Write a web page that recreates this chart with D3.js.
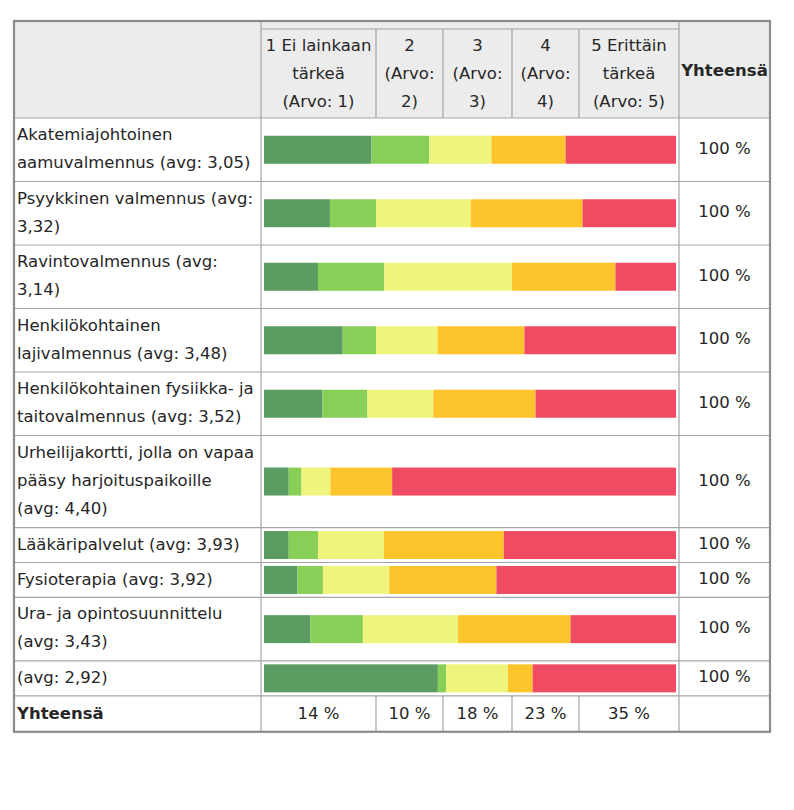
<!DOCTYPE html>
<html><head><meta charset="utf-8">
<script src="https://cdn.jsdelivr.net/npm/d3@7"></script>
<style>
body{margin:0;background:#fff}
text{font-family:"DejaVu Sans",Verdana,sans-serif;font-size:16.5px;fill:#262626}
</style>
</head><body><svg id="chart" width="794" height="810"></svg>
<script>
// ---- data ----
const categories = [
  "Akatemiajohtoinen\naamuvalmennus (avg: 3,05)",
  "Psyykkinen valmennus (avg:\n3,32)",
  "Ravintovalmennus (avg:\n3,14)",
  "Henkilökohtainen\nlajivalmennus (avg: 3,48)",
  "Henkilökohtainen fysiikka- ja\ntaitovalmennus (avg: 3,52)",
  "Urheilijakortti, jolla on vapaa\npääsy harjoituspaikoille\n(avg: 4,40)",
  "Lääkäripalvelut (avg: 3,93)",
  "Fysioterapia (avg: 3,92)",
  "Ura- ja opintosuunnittelu\n(avg: 3,43)",
  "(avg: 2,92)"
];
const level1 = [26.1, 16.0, 13.1, 19.1, 14.2, 6.0, 6.0, 8.1, 11.2, 42.2];
const level2 = [14.0, 11.2, 16.1, 8.1, 10.9, 3.1, 7.1, 6.2, 12.8, 2.0];
const level3 = [15.1, 23.0, 31.0, 14.9, 16.0, 7.0, 16.0, 16.1, 23.1, 15.0];
const level4 = [18.0, 27.1, 25.1, 21.1, 24.8, 15.0, 29.1, 26.0, 27.3, 6.0];
const level5 = [26.8, 22.7, 14.7, 36.8, 34.1, 68.9, 41.8, 43.6, 25.6, 34.8];
const rowTotals = ["100 %","100 %","100 %","100 %","100 %","100 %","100 %","100 %","100 %","100 %"];
const columnHeaders = [
  ["1 Ei lainkaan","tärkeä","(Arvo: 1)"],
  ["2","(Arvo:","2)"],
  ["3","(Arvo:","3)"],
  ["4","(Arvo:","4)"],
  ["5 Erittäin","tärkeä","(Arvo: 5)"]
];
const totalHeader = "Yhteensä";
const footerLabel = "Yhteensä";
const footerTotals = ["14 %","10 %","18 %","23 %","35 %"];
const levelKeys = ["l1","l2","l3","l4","l5"];
const levelColors = ["#5b9c62","#88cf58","#eff47d","#fcc52b","#ef4c63"];

// ---- layout ----
const svg = d3.select("#chart");
const L = 14, R = 770, TOP = 21, HEAD_SUB = 29, HEAD_BOT = 118;
const colEdges = [261, 376, 443, 512, 579, 679];
const BAR_X0 = 264, BAR_X1 = 676, BAR_H = 28, LINE_H = 28;
const border = "#8c8c8c", inner = "#a6a6a6";

const x = d3.scaleLinear().domain([0, 100]).range([BAR_X0, BAR_X1]);
const color = d3.scaleOrdinal().domain(levelKeys).range(levelColors);

const rows = categories.map((c, i) => ({
  label: c, lines: c.split("\n"),
  l1: level1[i], l2: level2[i], l3: level3[i], l4: level4[i], l5: level5[i],
  total: rowTotals[i]
}));
let yc = HEAD_BOT;
rows.forEach(r => { r.y0 = yc; r.h = 28.6 * r.lines.length + 6.3; yc += r.h; });
const FOOT_TOP = yc, FOOT_BOT = yc + 36;

svg.append("rect").attr("width", 794).attr("height", 810).attr("fill", "#fff");

// header background
svg.append("rect").attr("x", L).attr("y", TOP).attr("width", R - L).attr("height", HEAD_BOT - TOP)
  .attr("fill", "#ececec");

// header texts
const hdr = svg.append("g");
columnHeaders.forEach((lines, j) => {
  const cx = (colEdges[j] + colEdges[j + 1]) / 2;
  lines.forEach((t, k) => {
    hdr.append("text").attr("x", cx).attr("y", HEAD_SUB + 22 + k * LINE_H)
      .attr("text-anchor", "middle").text(t);
  });
});
hdr.append("text").attr("x", (colEdges[5] + R) / 2).attr("y", (TOP + HEAD_BOT) / 2 + 6)
  .attr("text-anchor", "middle").attr("font-weight", "bold").text(totalHeader);

// body rows
const body = svg.append("g");
rows.forEach(r => {
  r.lines.forEach((t, k) => {
    body.append("text").attr("x", 17).attr("y", r.y0 + 22 + k * LINE_H).text(t);
  });
  body.append("text").attr("x", (colEdges[5] + R) / 2).attr("y", r.y0 + r.h / 2 + 4)
    .attr("text-anchor", "middle").text(r.total);
});

// stacked bars
const stack = d3.stack().keys(levelKeys)(rows);
svg.append("g").selectAll("g").data(stack).join("g")
  .attr("fill", d => color(d.key))
  .selectAll("rect").data(d => d).join("rect")
  .attr("x", d => x(d[0]))
  .attr("width", d => x(d[1]) - x(d[0]))
  .attr("y", d => d.data.y0 + d.data.h / 2 - BAR_H / 2)
  .attr("height", BAR_H);

// footer
svg.append("text").attr("x", 17).attr("y", (FOOT_TOP + FOOT_BOT) / 2 + 5)
  .attr("font-weight", "bold").text(footerLabel);
footerTotals.forEach((t, j) => {
  svg.append("text").attr("x", (colEdges[j] + colEdges[j + 1]) / 2).attr("y", (FOOT_TOP + FOOT_BOT) / 2 + 5)
    .attr("text-anchor", "middle").text(t);
});

// grid lines
const g = svg.append("g").attr("stroke", inner).attr("stroke-width", 1.2).attr("fill", "none");
const hl = (y, x1, x2) => g.append("line").attr("x1", x1).attr("x2", x2).attr("y1", y).attr("y2", y);
const vl = (xx, y1, y2) => g.append("line").attr("x1", xx).attr("x2", xx).attr("y1", y1).attr("y2", y2);
hl(HEAD_SUB, colEdges[0], colEdges[5]);
hl(HEAD_BOT, L, R);
rows.forEach(r => hl(r.y0 + r.h, L, R));
vl(colEdges[0], TOP, FOOT_BOT);
vl(colEdges[5], TOP, FOOT_BOT);
colEdges.slice(1, 5).forEach(e => { vl(e, HEAD_SUB, HEAD_BOT); vl(e, FOOT_TOP, FOOT_BOT); });

// outer border
svg.append("rect").attr("x", L).attr("y", TOP).attr("width", R - L).attr("height", FOOT_BOT - TOP)
  .attr("fill", "none").attr("stroke", border).attr("stroke-width", 2.2);
</script>
</body></html>
